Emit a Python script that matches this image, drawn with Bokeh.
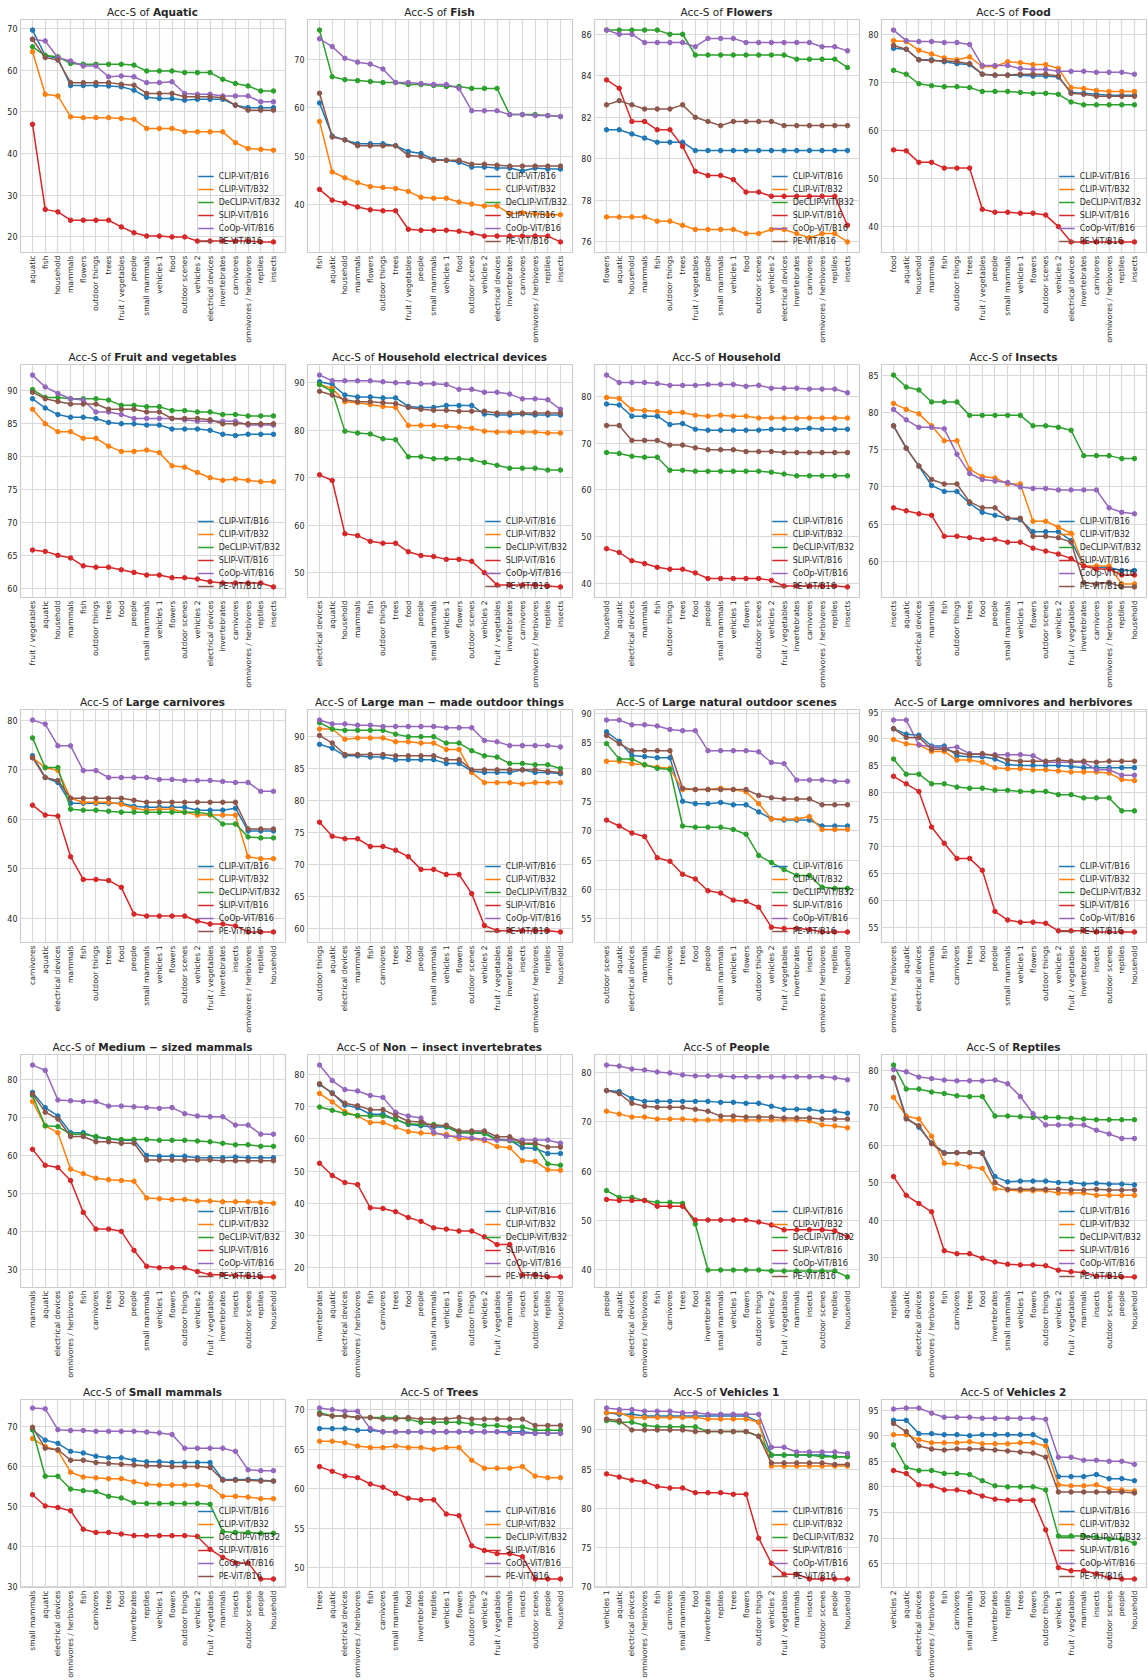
import math
from bokeh.plotting import figure
from bokeh.models import FactorRange, Range1d, SingleIntervalTicker, ColumnDataSource, Div
from bokeh.layouts import column, row
from bokeh.embed import file_html
from bokeh.resources import INLINE

FONT = "DejaVu Sans"

MODELS = ["CLIP-ViT/B16", "CLIP-ViT/B32", "DeCLIP-ViT/B32", "SLIP-ViT/B16", "CoOp-ViT/B16", "PE-ViT/B16"]
COLORS = ["#1f77b4", "#ff7f0e", "#2ca02c", "#d62728", "#9467bd", "#8c564b"]

# ---------------- data ----------------
AQUATIC_ORDER = ["aquatic", "fish", "household", "mammals", "flowers", "outdoor things", "trees", "fruit / vegetables", "people", "small mammals", "vehicles 1", "food", "outdoor scenes", "vehicles 2", "electrical devices", "invertebrates", "carnivores", "omnivores / herbivores", "reptiles", "insects"]
AQUATIC = {
    "CLIP-ViT/B16": [69.6, 63.5, 62.8, 56.3, 56.3, 56.3, 56.2, 56.0, 55.2, 53.5, 53.2, 53.2, 52.8, 53.0, 53.0, 53.0, 51.6, 51.0, 51.0, 51.0],
    "CLIP-ViT/B32": [64.4, 54.2, 53.8, 48.8, 48.6, 48.6, 48.6, 48.4, 48.2, 46.0, 46.0, 46.0, 45.2, 45.2, 45.2, 45.2, 42.6, 41.2, 41.0, 40.8],
    "DeCLIP-ViT/B32": [65.6, 63.5, 63.2, 61.6, 61.4, 61.4, 61.4, 61.4, 61.2, 59.8, 59.8, 59.8, 59.4, 59.4, 59.4, 57.8, 56.8, 56.2, 55.0, 55.0],
    "SLIP-ViT/B16": [47.0, 26.6, 26.0, 24.0, 24.0, 24.0, 24.0, 22.4, 21.0, 20.2, 20.2, 20.0, 20.0, 19.0, 19.0, 19.0, 19.0, 19.0, 18.8, 18.8],
    "CoOp-ViT/B16": [67.4, 67.0, 63.0, 62.2, 61.0, 61.0, 58.4, 58.6, 58.4, 57.0, 57.0, 57.2, 54.4, 54.2, 54.2, 53.8, 53.8, 53.8, 52.4, 52.4],
    "PE-ViT/B16": [67.4, 63.0, 62.4, 57.0, 57.0, 57.0, 57.0, 56.6, 56.4, 54.4, 54.4, 54.4, 53.6, 53.6, 53.6, 53.4, 51.6, 50.4, 50.4, 50.4],
}

FISH_ORDER = ["fish", "aquatic", "household", "mammals", "flowers", "outdoor things", "trees", "fruit / vegetables", "people", "small mammals", "vehicles 1", "food", "outdoor scenes", "vehicles 2", "electrical devices", "invertebrates", "carnivores", "omnivores / herbivores", "reptiles", "insects"]
FISH = {
    "CLIP-ViT/B16": [61.0, 54.2, 53.4, 52.6, 52.6, 52.6, 52.2, 51.0, 50.6, 49.4, 49.2, 48.8, 47.8, 47.8, 47.6, 47.6, 47.0, 47.6, 47.4, 47.4],
    "CLIP-ViT/B32": [57.2, 46.8, 45.6, 44.6, 43.8, 43.6, 43.4, 42.8, 41.6, 41.4, 41.4, 40.6, 40.2, 39.8, 39.8, 38.2, 38.4, 38.2, 38.0, 38.0],
    "DeCLIP-ViT/B32": [76.0, 66.4, 65.8, 65.6, 65.4, 65.2, 65.2, 64.8, 64.8, 64.6, 64.4, 64.4, 64.0, 64.0, 64.0, 58.6, 58.6, 58.6, 58.4, 58.2],
    "SLIP-ViT/B16": [43.2, 41.0, 40.4, 39.6, 39.0, 38.8, 38.8, 35.0, 34.8, 34.8, 34.8, 34.6, 34.2, 33.6, 33.6, 33.6, 33.6, 33.6, 33.6, 32.4],
    "CoOp-ViT/B16": [74.2, 72.6, 70.2, 69.4, 69.0, 68.0, 65.2, 65.2, 65.0, 64.8, 64.8, 64.0, 59.4, 59.4, 59.4, 58.6, 58.6, 58.4, 58.4, 58.2],
    "PE-ViT/B16": [63.0, 54.0, 53.4, 52.2, 52.2, 52.2, 52.2, 50.2, 50.0, 49.2, 49.2, 49.2, 48.4, 48.4, 48.2, 48.0, 48.0, 48.0, 48.0, 48.0],
}

FLOWERS_ORDER = ["flowers", "aquatic", "household", "mammals", "fish", "outdoor things", "trees", "fruit / vegetables", "people", "small mammals", "vehicles 1", "food", "outdoor scenes", "vehicles 2", "electrical devices", "invertebrates", "carnivores", "omnivores / herbivores", "reptiles", "insects"]
FLOWERS = {
    "CLIP-ViT/B16": [81.4, 81.4, 81.2, 81.0, 80.8, 80.8, 80.8, 80.4, 80.4, 80.4, 80.4, 80.4, 80.4, 80.4, 80.4, 80.4, 80.4, 80.4, 80.4, 80.4],
    "CLIP-ViT/B32": [77.2, 77.2, 77.2, 77.2, 77.0, 77.0, 76.8, 76.6, 76.6, 76.6, 76.6, 76.4, 76.4, 76.6, 76.6, 76.4, 76.2, 76.4, 76.4, 76.0],
    "DeCLIP-ViT/B32": [86.2, 86.2, 86.2, 86.2, 86.2, 86.0, 86.0, 85.0, 85.0, 85.0, 85.0, 85.0, 85.0, 85.0, 85.0, 84.8, 84.8, 84.8, 84.8, 84.4],
    "SLIP-ViT/B16": [83.8, 83.4, 81.8, 81.8, 81.4, 81.4, 80.6, 79.4, 79.2, 79.2, 79.0, 78.4, 78.4, 78.2, 78.2, 78.2, 78.2, 78.2, 78.2, 76.8],
    "CoOp-ViT/B16": [86.2, 86.0, 86.0, 85.6, 85.6, 85.6, 85.6, 85.4, 85.8, 85.8, 85.8, 85.6, 85.6, 85.6, 85.6, 85.6, 85.6, 85.4, 85.4, 85.2],
    "PE-ViT/B16": [82.6, 82.8, 82.6, 82.4, 82.4, 82.4, 82.6, 82.0, 81.8, 81.6, 81.8, 81.8, 81.8, 81.8, 81.6, 81.6, 81.6, 81.6, 81.6, 81.6],
}

FOOD_ORDER = ["food", "aquatic", "household", "mammals", "fish", "outdoor things", "trees", "fruit / vegetables", "people", "small mammals", "vehicles 1", "flowers", "outdoor scenes", "vehicles 2", "electrical devices", "invertebrates", "carnivores", "omnivores / herbivores", "reptiles", "insects"]
FOOD = {
    "CLIP-ViT/B16": [77.2, 77.0, 74.8, 74.8, 74.4, 74.0, 73.8, 71.8, 71.6, 71.6, 71.6, 71.4, 71.4, 71.2, 68.0, 67.8, 67.6, 67.4, 67.4, 67.4],
    "CLIP-ViT/B32": [78.8, 78.6, 76.8, 76.0, 75.2, 74.8, 75.4, 73.4, 73.4, 74.4, 74.2, 73.8, 73.8, 73.0, 69.0, 68.8, 68.4, 68.2, 68.2, 68.2],
    "DeCLIP-ViT/B32": [72.6, 71.8, 69.8, 69.4, 69.2, 69.2, 69.0, 68.2, 68.2, 68.2, 68.0, 67.8, 67.8, 67.6, 66.0, 65.4, 65.4, 65.4, 65.4, 65.4],
    "SLIP-ViT/B16": [56.0, 55.8, 53.4, 53.4, 52.2, 52.2, 52.2, 43.6, 43.0, 43.0, 42.8, 42.8, 42.4, 40.0, 36.8, 36.8, 36.8, 36.8, 36.8, 36.8],
    "CoOp-ViT/B16": [81.0, 78.8, 78.6, 78.6, 78.4, 78.4, 78.0, 73.6, 73.6, 73.6, 73.0, 72.8, 72.8, 72.4, 72.4, 72.4, 72.2, 72.2, 72.2, 71.8],
    "PE-ViT/B16": [77.8, 77.0, 74.8, 74.6, 74.6, 74.4, 74.0, 71.8, 71.6, 71.6, 71.8, 71.8, 71.8, 71.4, 67.8, 67.6, 67.2, 67.2, 67.2, 67.2],
}

FRUIT_ORDER = ["fruit / vegetables", "aquatic", "household", "mammals", "fish", "outdoor things", "trees", "food", "people", "small mammals", "vehicles 1", "flowers", "outdoor scenes", "vehicles 2", "electrical devices", "invertebrates", "carnivores", "omnivores / herbivores", "reptiles", "insects"]
FRUIT = {
    "CLIP-ViT/B16": [88.8, 87.4, 86.4, 86.0, 86.0, 85.8, 85.2, 85.0, 85.0, 84.8, 84.8, 84.2, 84.2, 84.2, 84.0, 83.4, 83.2, 83.4, 83.4, 83.4],
    "CLIP-ViT/B32": [87.2, 85.0, 83.8, 83.8, 82.8, 82.8, 81.6, 80.8, 80.8, 81.0, 80.6, 78.6, 78.4, 77.6, 76.8, 76.4, 76.6, 76.4, 76.2, 76.2],
    "DeCLIP-ViT/B32": [90.2, 89.0, 89.0, 88.8, 88.8, 88.8, 88.6, 87.8, 87.8, 87.6, 87.6, 87.0, 87.0, 86.8, 86.8, 86.4, 86.4, 86.2, 86.2, 86.2],
    "SLIP-ViT/B16": [65.8, 65.6, 65.0, 64.6, 63.4, 63.2, 63.2, 62.8, 62.4, 62.0, 62.0, 61.6, 61.6, 61.4, 61.0, 60.8, 60.8, 60.8, 60.8, 60.2],
    "CoOp-ViT/B16": [92.4, 90.6, 89.6, 88.8, 88.6, 86.8, 86.8, 86.4, 85.8, 85.8, 85.8, 85.8, 85.6, 85.4, 85.4, 85.4, 85.4, 84.8, 84.8, 84.8],
    "PE-ViT/B16": [89.8, 88.8, 88.4, 88.0, 88.0, 88.0, 87.2, 87.2, 87.2, 86.8, 86.8, 85.8, 85.8, 85.8, 85.6, 85.0, 85.0, 85.0, 85.0, 85.0],
}

ELECTRICAL_ORDER = ["electrical devices", "aquatic", "household", "mammals", "fish", "outdoor things", "trees", "food", "people", "small mammals", "vehicles 1", "flowers", "outdoor scenes", "vehicles 2", "fruit / vegetables", "invertebrates", "carnivores", "omnivores / herbivores", "reptiles", "insects"]
ELECTRICAL = {
    "CLIP-ViT/B16": [90.2, 89.6, 87.4, 87.0, 87.0, 86.8, 86.8, 85.0, 84.8, 84.8, 85.2, 85.2, 85.2, 83.4, 83.2, 83.2, 83.4, 83.2, 83.2, 83.2],
    "CLIP-ViT/B32": [89.6, 88.8, 86.0, 85.8, 85.4, 85.0, 84.8, 81.0, 81.0, 81.0, 80.8, 80.6, 80.4, 79.8, 79.6, 79.6, 79.6, 79.6, 79.4, 79.4],
    "DeCLIP-ViT/B32": [89.6, 88.2, 79.8, 79.4, 79.2, 78.2, 78.0, 74.4, 74.4, 74.0, 74.0, 74.0, 73.8, 73.2, 72.6, 72.0, 72.0, 72.0, 71.6, 71.6],
    "SLIP-ViT/B16": [70.6, 69.4, 58.2, 57.8, 56.6, 56.2, 56.2, 54.4, 53.6, 53.4, 52.8, 52.8, 52.4, 50.0, 47.4, 47.4, 47.4, 47.4, 47.2, 47.0],
    "CoOp-ViT/B16": [91.6, 90.4, 90.4, 90.4, 90.4, 90.2, 90.0, 90.0, 89.8, 89.8, 89.6, 88.6, 88.6, 88.0, 88.0, 87.6, 86.6, 86.6, 86.4, 84.4],
    "PE-ViT/B16": [88.2, 87.4, 86.4, 86.0, 86.0, 85.8, 85.6, 84.8, 84.4, 84.2, 84.2, 84.0, 84.0, 84.0, 83.6, 83.6, 83.6, 83.6, 83.6, 83.6],
}

HOUSEHOLD_ORDER = ["household", "aquatic", "electrical devices", "mammals", "fish", "outdoor things", "trees", "food", "people", "small mammals", "vehicles 1", "flowers", "outdoor scenes", "vehicles 2", "fruit / vegetables", "invertebrates", "carnivores", "omnivores / herbivores", "reptiles", "insects"]
HOUSEHOLD = {
    "CLIP-ViT/B16": [78.4, 78.2, 75.8, 75.8, 75.8, 74.0, 74.2, 73.0, 72.8, 72.8, 72.8, 72.8, 72.8, 73.0, 73.0, 73.0, 73.2, 73.0, 73.0, 73.0],
    "CLIP-ViT/B32": [79.8, 79.6, 77.2, 77.0, 76.8, 76.6, 76.6, 76.0, 75.8, 76.0, 75.8, 75.8, 75.4, 75.4, 75.4, 75.4, 75.4, 75.4, 75.4, 75.4],
    "DeCLIP-ViT/B32": [68.0, 67.8, 67.2, 67.0, 67.0, 64.2, 64.2, 64.0, 64.0, 64.0, 64.0, 64.0, 64.0, 63.8, 63.4, 63.0, 63.0, 63.0, 63.0, 63.0],
    "SLIP-ViT/B16": [47.4, 46.6, 44.8, 44.2, 43.4, 43.0, 43.0, 42.2, 41.0, 41.0, 41.0, 41.0, 41.0, 40.6, 39.4, 39.4, 39.4, 39.4, 39.4, 39.2],
    "CoOp-ViT/B16": [84.6, 83.0, 83.0, 83.0, 82.8, 82.4, 82.4, 82.4, 82.6, 82.6, 82.6, 82.2, 82.4, 81.8, 81.8, 81.8, 81.6, 81.6, 81.6, 80.8],
    "PE-ViT/B16": [73.8, 73.8, 70.6, 70.6, 70.6, 69.6, 69.6, 69.0, 68.6, 68.6, 68.6, 68.2, 68.2, 68.2, 68.0, 68.0, 68.0, 68.0, 68.0, 68.0],
}

INSECTS_ORDER = ["insects", "aquatic", "electrical devices", "mammals", "fish", "outdoor things", "trees", "food", "people", "small mammals", "vehicles 1", "flowers", "outdoor scenes", "vehicles 2", "fruit / vegetables", "invertebrates", "carnivores", "omnivores / herbivores", "reptiles", "household"]
INSECTS = {
    "CLIP-ViT/B16": [78.2, 75.2, 72.8, 70.2, 69.4, 69.4, 67.8, 66.6, 66.2, 65.8, 65.6, 64.0, 64.0, 64.0, 62.8, 59.4, 59.2, 59.2, 58.8, 58.8],
    "CLIP-ViT/B32": [81.2, 80.4, 79.8, 78.2, 76.2, 76.2, 72.4, 71.4, 71.2, 70.4, 70.4, 65.4, 65.4, 64.6, 63.8, 59.4, 59.4, 59.4, 57.0, 57.0],
    "DeCLIP-ViT/B32": [85.0, 83.4, 83.0, 81.4, 81.4, 81.4, 79.6, 79.6, 79.6, 79.6, 79.6, 78.2, 78.2, 78.0, 77.6, 74.2, 74.2, 74.2, 73.8, 73.8],
    "SLIP-ViT/B16": [67.2, 66.8, 66.4, 66.2, 63.4, 63.4, 63.2, 63.0, 63.0, 62.6, 62.6, 61.8, 61.4, 61.0, 60.4, 59.4, 59.0, 59.0, 58.2, 58.2],
    "CoOp-ViT/B16": [80.4, 79.0, 78.0, 78.0, 77.8, 74.4, 71.8, 71.0, 70.8, 70.6, 70.0, 69.8, 69.8, 69.6, 69.6, 69.6, 69.6, 67.2, 66.6, 66.4],
    "PE-ViT/B16": [78.2, 75.2, 72.8, 71.0, 70.4, 70.4, 68.0, 67.2, 67.2, 65.8, 65.8, 63.4, 63.4, 63.2, 62.6, 57.2, 57.0, 57.2, 56.6, 56.6],
}

CARNIVORES_ORDER = ["carnivores", "aquatic", "electrical devices", "mammals", "fish", "outdoor things", "trees", "food", "people", "small mammals", "vehicles 1", "flowers", "outdoor scenes", "vehicles 2", "fruit / vegetables", "invertebrates", "insects", "omnivores / herbivores", "reptiles", "household"]
CARNIVORES = {
    "CLIP-ViT/B16": [72.8, 68.4, 67.4, 63.2, 63.2, 63.2, 63.2, 63.2, 62.6, 62.4, 62.4, 62.4, 62.4, 61.8, 61.8, 61.8, 62.2, 57.6, 57.6, 57.6],
    "CLIP-ViT/B32": [72.4, 70.4, 69.8, 64.2, 63.4, 63.4, 63.4, 63.0, 62.2, 61.8, 62.0, 62.0, 61.4, 60.8, 60.8, 60.8, 60.8, 52.4, 52.0, 52.0],
    "DeCLIP-ViT/B32": [76.4, 70.4, 70.4, 62.0, 61.8, 61.8, 61.6, 61.4, 61.4, 61.4, 61.4, 61.4, 61.4, 61.4, 61.0, 59.0, 59.0, 56.4, 56.2, 56.2],
    "SLIP-ViT/B16": [62.8, 60.8, 60.6, 52.4, 47.8, 47.8, 47.6, 46.2, 40.8, 40.4, 40.4, 40.4, 40.4, 39.4, 38.8, 38.8, 38.4, 37.2, 37.2, 37.2],
    "CoOp-ViT/B16": [80.0, 79.2, 74.8, 74.8, 69.8, 69.8, 68.4, 68.4, 68.4, 68.4, 68.0, 68.0, 67.8, 67.8, 67.8, 67.6, 67.4, 67.4, 65.6, 65.6],
    "PE-ViT/B16": [72.4, 68.4, 67.8, 64.2, 64.2, 64.2, 64.2, 64.2, 63.8, 63.4, 63.4, 63.4, 63.4, 63.4, 63.4, 63.4, 63.4, 58.0, 58.0, 58.0],
}

OUTDOOR_THINGS_ORDER = ["outdoor things", "aquatic", "electrical devices", "mammals", "fish", "carnivores", "trees", "food", "people", "small mammals", "vehicles 1", "flowers", "outdoor scenes", "vehicles 2", "fruit / vegetables", "invertebrates", "insects", "omnivores / herbivores", "reptiles", "household"]
OUTDOOR_THINGS = {
    "CLIP-ViT/B16": [88.8, 88.2, 87.0, 87.0, 86.8, 86.8, 86.4, 86.4, 86.4, 86.4, 85.8, 85.8, 84.6, 84.4, 84.4, 84.4, 84.8, 84.4, 84.4, 84.2],
    "CLIP-ViT/B32": [91.2, 91.2, 89.6, 89.8, 89.8, 89.8, 89.2, 89.2, 89.0, 89.0, 88.0, 88.0, 84.4, 82.8, 82.8, 82.8, 82.6, 82.8, 82.8, 82.8],
    "DeCLIP-ViT/B32": [92.2, 91.2, 91.0, 91.0, 91.0, 91.0, 90.4, 90.0, 90.0, 90.0, 89.0, 89.0, 87.8, 87.0, 86.8, 85.8, 85.8, 85.6, 85.6, 85.0],
    "SLIP-ViT/B16": [76.6, 74.4, 74.0, 74.0, 72.8, 72.8, 72.2, 71.2, 69.2, 69.2, 68.4, 68.4, 65.4, 60.4, 59.6, 59.6, 59.6, 59.6, 59.6, 59.4],
    "CoOp-ViT/B16": [92.6, 92.0, 92.0, 91.8, 91.8, 91.6, 91.6, 91.6, 91.6, 91.6, 91.4, 91.4, 91.4, 89.4, 89.2, 88.6, 88.6, 88.6, 88.6, 88.4],
    "PE-ViT/B16": [90.2, 89.0, 87.2, 87.2, 87.2, 87.2, 87.0, 87.0, 87.0, 87.0, 86.4, 86.4, 84.8, 84.8, 84.8, 84.8, 84.8, 84.8, 84.6, 84.4],
}

OUTDOOR_SCENES_ORDER = ["outdoor scenes", "aquatic", "electrical devices", "mammals", "fish", "carnivores", "trees", "food", "people", "small mammals", "vehicles 1", "flowers", "outdoor things", "vehicles 2", "fruit / vegetables", "invertebrates", "insects", "omnivores / herbivores", "reptiles", "household"]
OUTDOOR_SCENES = {
    "CLIP-ViT/B16": [86.8, 85.2, 82.8, 82.6, 82.4, 82.4, 75.0, 74.6, 74.6, 74.8, 74.4, 74.4, 73.2, 72.0, 71.8, 71.8, 71.8, 70.8, 70.8, 70.8],
    "CLIP-ViT/B32": [81.8, 81.8, 81.4, 81.2, 80.8, 80.6, 77.0, 77.0, 77.0, 77.2, 77.0, 76.6, 74.6, 72.0, 72.0, 72.0, 72.4, 70.2, 70.2, 70.2],
    "DeCLIP-ViT/B32": [84.8, 82.2, 82.2, 81.2, 80.6, 80.4, 70.8, 70.6, 70.6, 70.6, 70.2, 69.4, 65.8, 64.6, 63.4, 62.4, 62.4, 60.4, 60.2, 60.2],
    "SLIP-ViT/B16": [71.8, 70.8, 69.6, 69.0, 65.4, 64.8, 62.6, 61.8, 59.8, 59.4, 58.2, 58.0, 57.0, 53.6, 53.4, 53.4, 53.2, 52.8, 52.8, 52.8],
    "CoOp-ViT/B16": [88.8, 88.8, 88.0, 88.0, 87.8, 87.2, 87.0, 87.0, 83.6, 83.6, 83.6, 83.6, 83.4, 81.6, 81.4, 78.6, 78.6, 78.6, 78.4, 78.4],
    "PE-ViT/B16": [86.2, 84.8, 83.6, 83.6, 83.6, 83.6, 77.2, 77.0, 77.0, 77.0, 77.0, 77.0, 76.0, 75.6, 75.4, 75.4, 75.4, 74.4, 74.4, 74.4],
}

OMNIVORES_ORDER = ["omnivores / herbivores", "aquatic", "electrical devices", "mammals", "fish", "carnivores", "trees", "food", "people", "small mammals", "vehicles 1", "flowers", "outdoor things", "vehicles 2", "fruit / vegetables", "invertebrates", "insects", "outdoor scenes", "reptiles", "household"]
OMNIVORES = {
    "CLIP-ViT/B16": [91.8, 90.8, 90.6, 88.6, 88.6, 86.8, 86.6, 86.6, 86.2, 85.2, 85.0, 85.0, 85.0, 85.0, 84.8, 84.6, 84.6, 84.6, 84.6, 84.6],
    "CLIP-ViT/B32": [89.8, 89.0, 88.8, 87.6, 87.6, 86.0, 86.0, 85.6, 84.6, 84.4, 84.4, 84.2, 84.2, 84.0, 83.8, 83.8, 83.8, 83.6, 82.4, 82.2],
    "DeCLIP-ViT/B32": [86.2, 83.4, 83.4, 81.6, 81.6, 81.0, 80.8, 80.8, 80.4, 80.4, 80.2, 80.2, 80.2, 79.6, 79.6, 79.0, 79.0, 79.0, 76.6, 76.6],
    "SLIP-ViT/B16": [83.0, 81.6, 80.2, 73.6, 70.6, 67.8, 67.8, 65.6, 58.0, 56.4, 56.0, 56.0, 55.8, 54.4, 54.4, 54.4, 54.2, 54.2, 54.2, 54.2],
    "CoOp-ViT/B16": [93.4, 93.4, 88.8, 88.4, 88.2, 88.4, 87.2, 87.0, 87.0, 87.0, 87.0, 86.8, 85.6, 85.6, 85.6, 85.6, 84.2, 84.2, 83.2, 83.2],
    "PE-ViT/B16": [91.8, 90.2, 90.2, 88.0, 88.0, 87.4, 87.0, 87.2, 86.8, 86.0, 85.8, 85.8, 85.8, 86.0, 85.8, 85.8, 85.6, 85.8, 85.8, 85.8],
}

MAMMALS_ORDER = ["mammals", "aquatic", "electrical devices", "omnivores / herbivores", "fish", "carnivores", "trees", "food", "people", "small mammals", "vehicles 1", "flowers", "outdoor things", "vehicles 2", "fruit / vegetables", "invertebrates", "insects", "outdoor scenes", "reptiles", "household"]
MAMMALS = {
    "CLIP-ViT/B16": [76.6, 72.6, 70.4, 66.0, 66.0, 64.8, 64.4, 64.0, 64.0, 60.0, 59.8, 59.8, 59.8, 59.4, 59.4, 59.4, 59.6, 59.4, 59.4, 59.4],
    "CLIP-ViT/B32": [74.2, 67.8, 66.0, 56.4, 55.2, 54.0, 53.6, 53.4, 53.2, 48.8, 48.6, 48.4, 48.4, 48.0, 48.0, 47.8, 47.8, 47.8, 47.6, 47.4],
    "DeCLIP-ViT/B32": [75.8, 67.8, 67.6, 65.6, 65.6, 65.0, 64.4, 64.2, 64.2, 64.2, 64.0, 64.0, 64.0, 63.8, 63.6, 63.2, 62.8, 62.8, 62.4, 62.4],
    "SLIP-ViT/B16": [61.6, 57.4, 56.8, 53.4, 45.0, 40.6, 40.6, 40.0, 35.0, 30.8, 30.4, 30.4, 30.4, 29.4, 28.6, 28.6, 28.4, 28.2, 28.0, 28.0],
    "CoOp-ViT/B16": [83.8, 82.4, 74.6, 74.4, 74.2, 74.2, 73.0, 73.0, 72.8, 72.6, 72.4, 72.6, 71.0, 70.4, 70.2, 70.2, 68.0, 68.0, 65.6, 65.6],
    "PE-ViT/B16": [76.2, 71.4, 69.6, 65.0, 65.0, 63.6, 63.6, 63.2, 63.2, 58.8, 58.8, 58.8, 58.8, 58.8, 58.8, 58.6, 58.6, 58.6, 58.6, 58.6],
}

INVERTEBRATES_ORDER = ["invertebrates", "aquatic", "electrical devices", "omnivores / herbivores", "fish", "carnivores", "trees", "food", "people", "small mammals", "vehicles 1", "flowers", "outdoor things", "vehicles 2", "fruit / vegetables", "mammals", "insects", "outdoor scenes", "reptiles", "household"]
INVERTEBRATES = {
    "CLIP-ViT/B16": [76.8, 74.2, 70.4, 69.6, 67.6, 67.6, 66.0, 64.4, 64.0, 63.6, 63.6, 62.0, 62.0, 61.8, 59.8, 59.6, 57.2, 57.0, 55.4, 55.4],
    "CLIP-ViT/B32": [74.0, 71.4, 68.4, 67.0, 65.0, 65.0, 63.6, 62.2, 61.8, 61.6, 61.4, 60.0, 60.0, 59.4, 57.6, 57.2, 53.2, 53.0, 50.4, 50.2],
    "DeCLIP-ViT/B32": [69.8, 68.8, 67.8, 67.2, 67.0, 67.0, 66.0, 64.6, 64.4, 64.4, 63.8, 61.8, 61.8, 61.6, 59.6, 59.4, 58.4, 58.2, 52.2, 51.8],
    "SLIP-ViT/B16": [52.4, 48.6, 46.4, 45.8, 38.6, 38.4, 37.4, 35.6, 34.4, 32.4, 32.0, 31.4, 31.4, 29.6, 27.2, 27.2, 17.8, 17.8, 17.2, 17.2],
    "CoOp-ViT/B16": [82.8, 78.0, 75.2, 74.8, 73.4, 72.8, 68.2, 67.0, 66.4, 62.0, 60.8, 60.8, 60.2, 59.8, 59.6, 59.6, 59.6, 59.6, 59.6, 58.6],
    "PE-ViT/B16": [77.0, 74.0, 71.0, 70.2, 69.0, 69.0, 67.2, 65.4, 65.2, 64.0, 64.2, 62.4, 62.4, 62.4, 60.6, 60.6, 58.6, 58.6, 57.4, 57.4],
}

PEOPLE_ORDER = ["people", "aquatic", "electrical devices", "omnivores / herbivores", "fish", "carnivores", "trees", "food", "invertebrates", "small mammals", "vehicles 1", "flowers", "outdoor things", "vehicles 2", "fruit / vegetables", "mammals", "insects", "outdoor scenes", "reptiles", "household"]
PEOPLE = {
    "CLIP-ViT/B16": [76.4, 76.2, 74.8, 74.2, 74.2, 74.2, 74.2, 74.2, 74.2, 74.0, 74.0, 73.8, 73.8, 73.2, 72.6, 72.6, 72.6, 72.2, 72.2, 71.8],
    "CLIP-ViT/B32": [72.2, 71.6, 71.0, 71.0, 70.6, 70.6, 70.6, 70.4, 70.4, 70.4, 70.4, 70.4, 70.4, 70.4, 70.4, 70.4, 70.2, 69.4, 69.2, 68.8],
    "DeCLIP-ViT/B32": [56.0, 54.6, 54.6, 54.0, 53.6, 53.6, 53.4, 49.2, 39.8, 39.8, 39.8, 39.8, 39.8, 39.6, 39.6, 39.6, 39.6, 39.6, 39.6, 38.4],
    "SLIP-ViT/B16": [54.2, 54.0, 54.0, 54.0, 52.8, 52.8, 52.8, 50.0, 50.0, 50.0, 50.0, 50.0, 49.6, 49.0, 48.0, 48.0, 48.0, 48.0, 47.8, 46.6],
    "CoOp-ViT/B16": [81.6, 81.4, 80.8, 80.6, 80.2, 80.0, 79.6, 79.4, 79.4, 79.4, 79.2, 79.2, 79.2, 79.2, 79.2, 79.2, 79.2, 79.2, 79.0, 78.6],
    "PE-ViT/B16": [76.4, 75.8, 73.8, 73.2, 73.0, 73.0, 73.0, 72.6, 72.2, 71.2, 71.2, 71.0, 71.0, 71.0, 70.8, 70.8, 70.8, 70.6, 70.6, 70.6],
}

REPTILES_ORDER = ["reptiles", "aquatic", "electrical devices", "omnivores / herbivores", "fish", "carnivores", "trees", "food", "invertebrates", "small mammals", "vehicles 1", "flowers", "outdoor things", "vehicles 2", "fruit / vegetables", "mammals", "insects", "outdoor scenes", "people", "household"]
REPTILES = {
    "CLIP-ViT/B16": [78.0, 67.4, 64.8, 60.6, 58.0, 58.0, 58.0, 58.0, 51.6, 50.2, 50.4, 50.4, 50.4, 50.0, 50.0, 49.6, 49.8, 49.6, 49.6, 49.4],
    "CLIP-ViT/B32": [72.8, 67.8, 67.0, 62.4, 55.2, 55.0, 54.2, 53.8, 48.4, 48.0, 47.8, 47.8, 47.8, 47.2, 47.2, 47.2, 46.6, 46.6, 46.6, 46.6],
    "DeCLIP-ViT/B32": [81.4, 75.0, 75.0, 74.2, 73.8, 73.2, 73.0, 73.0, 67.8, 67.8, 67.6, 67.4, 67.4, 67.4, 67.2, 67.0, 66.8, 66.8, 66.8, 66.8],
    "SLIP-ViT/B16": [51.6, 46.6, 44.4, 42.2, 31.8, 31.0, 31.0, 29.8, 28.8, 28.2, 28.0, 28.0, 27.8, 26.6, 26.2, 26.0, 25.0, 25.0, 24.8, 24.8],
    "CoOp-ViT/B16": [80.2, 79.6, 78.2, 77.8, 77.4, 77.2, 77.2, 77.2, 77.4, 76.4, 73.0, 68.4, 65.4, 65.4, 65.4, 65.4, 64.0, 63.0, 61.8, 61.8],
    "PE-ViT/B16": [78.0, 67.0, 65.2, 60.4, 57.8, 58.0, 58.0, 57.8, 50.0, 48.2, 48.2, 48.2, 48.2, 48.2, 48.0, 48.0, 48.2, 48.0, 48.0, 48.0],
}

SMALL_MAMMALS_ORDER = ["small mammals", "aquatic", "electrical devices", "omnivores / herbivores", "fish", "carnivores", "trees", "food", "invertebrates", "reptiles", "vehicles 1", "flowers", "outdoor things", "vehicles 2", "fruit / vegetables", "mammals", "insects", "outdoor scenes", "people", "household"]
SMALL_MAMMALS = {
    "CLIP-ViT/B16": [69.2, 66.6, 65.8, 63.8, 63.4, 62.6, 62.2, 62.2, 61.6, 61.2, 61.2, 61.0, 61.0, 61.0, 61.0, 56.8, 56.8, 56.8, 56.6, 56.4],
    "CLIP-ViT/B32": [67.0, 65.0, 64.0, 58.6, 57.4, 57.2, 57.0, 57.0, 56.2, 55.6, 55.4, 55.4, 55.4, 55.4, 55.0, 52.6, 52.6, 52.4, 52.0, 52.0],
    "DeCLIP-ViT/B32": [69.2, 57.6, 57.6, 54.4, 54.0, 53.8, 52.6, 52.2, 51.0, 50.8, 50.8, 50.8, 50.8, 50.8, 50.6, 43.8, 43.6, 43.6, 43.4, 43.4],
    "SLIP-ViT/B16": [53.0, 50.2, 49.8, 49.0, 44.4, 43.6, 43.6, 43.2, 42.8, 42.8, 42.8, 42.8, 42.8, 42.6, 39.4, 37.4, 36.0, 36.0, 32.0, 32.0],
    "CoOp-ViT/B16": [74.6, 74.4, 69.2, 69.0, 69.0, 68.8, 68.8, 68.8, 68.8, 68.6, 68.4, 68.0, 64.6, 64.6, 64.6, 64.6, 63.8, 59.2, 59.0, 59.0],
    "PE-ViT/B16": [69.8, 64.6, 64.2, 61.6, 61.6, 61.0, 60.8, 60.6, 60.4, 60.2, 60.2, 60.0, 60.0, 60.0, 59.8, 56.6, 56.6, 56.6, 56.4, 56.4],
}

TREES_ORDER = ["trees", "aquatic", "electrical devices", "omnivores / herbivores", "fish", "carnivores", "small mammals", "food", "invertebrates", "reptiles", "vehicles 1", "flowers", "outdoor things", "vehicles 2", "fruit / vegetables", "mammals", "insects", "outdoor scenes", "people", "household"]
TREES = {
    "CLIP-ViT/B16": [67.6, 67.6, 67.6, 67.4, 67.4, 67.2, 67.2, 67.2, 67.2, 67.2, 67.2, 67.2, 67.2, 67.2, 67.2, 67.2, 67.2, 67.0, 67.0, 67.0],
    "CLIP-ViT/B32": [66.0, 66.0, 65.8, 65.4, 65.2, 65.2, 65.4, 65.2, 65.2, 65.0, 65.2, 65.2, 63.6, 62.6, 62.6, 62.6, 62.8, 61.6, 61.4, 61.4],
    "DeCLIP-ViT/B32": [69.6, 69.2, 69.2, 69.0, 69.0, 69.0, 69.0, 68.8, 68.4, 68.4, 68.4, 68.4, 68.2, 68.0, 68.0, 67.8, 67.8, 67.4, 67.4, 67.4],
    "SLIP-ViT/B16": [62.8, 62.2, 61.6, 61.4, 60.6, 60.2, 59.4, 58.8, 58.6, 58.6, 56.8, 56.6, 52.8, 52.2, 51.8, 51.8, 51.4, 48.6, 48.6, 48.6],
    "CoOp-ViT/B16": [70.2, 70.0, 69.8, 69.8, 67.6, 67.2, 67.2, 67.2, 67.2, 67.2, 67.2, 67.2, 67.2, 67.2, 67.2, 67.0, 67.0, 67.0, 67.0, 67.0],
    "PE-ViT/B16": [69.4, 69.2, 69.2, 69.0, 69.0, 68.8, 68.8, 69.0, 68.8, 68.8, 68.8, 69.0, 68.8, 68.8, 68.8, 68.8, 68.8, 68.0, 68.0, 68.0],
}

VEHICLES1_ORDER = ["vehicles 1", "aquatic", "electrical devices", "omnivores / herbivores", "fish", "carnivores", "small mammals", "food", "invertebrates", "reptiles", "trees", "flowers", "outdoor things", "vehicles 2", "fruit / vegetables", "mammals", "insects", "outdoor scenes", "people", "household"]
VEHICLES1 = {
    "CLIP-ViT/B16": [92.2, 92.0, 92.0, 91.8, 91.8, 91.8, 91.8, 91.8, 91.8, 91.8, 91.8, 91.8, 91.0, 86.8, 86.8, 86.8, 86.8, 86.8, 86.6, 86.6],
    "CLIP-ViT/B32": [92.2, 92.2, 91.6, 91.6, 91.6, 91.6, 91.6, 91.6, 91.4, 91.4, 91.4, 91.4, 91.0, 85.4, 85.4, 85.4, 85.4, 85.4, 85.4, 85.4],
    "DeCLIP-ViT/B32": [91.2, 91.0, 91.0, 90.6, 90.4, 90.4, 90.4, 90.4, 89.8, 89.8, 89.8, 89.8, 89.2, 86.8, 86.8, 86.8, 86.8, 86.6, 86.6, 86.6],
    "SLIP-ViT/B16": [84.4, 84.0, 83.6, 83.4, 82.8, 82.6, 82.6, 82.0, 82.0, 82.0, 81.8, 81.8, 76.2, 73.0, 71.6, 71.6, 71.0, 71.0, 71.0, 71.0],
    "CoOp-ViT/B16": [92.8, 92.6, 92.6, 92.4, 92.4, 92.4, 92.2, 92.2, 92.0, 92.0, 92.0, 92.0, 92.0, 87.8, 87.8, 87.2, 87.2, 87.2, 87.2, 87.0],
    "PE-ViT/B16": [91.4, 91.2, 90.0, 90.0, 90.0, 90.0, 90.0, 89.8, 89.8, 89.8, 89.8, 89.8, 89.2, 85.8, 85.8, 85.8, 85.8, 85.8, 85.6, 85.6],
}

VEHICLES2_ORDER = ["vehicles 2", "aquatic", "electrical devices", "omnivores / herbivores", "fish", "carnivores", "small mammals", "food", "invertebrates", "reptiles", "trees", "flowers", "outdoor things", "vehicles 1", "fruit / vegetables", "mammals", "insects", "outdoor scenes", "people", "household"]
VEHICLES2 = {
    "CLIP-ViT/B16": [93.0, 93.0, 90.4, 90.4, 90.2, 90.2, 90.0, 90.2, 90.2, 90.2, 90.2, 90.2, 89.0, 82.0, 82.0, 82.0, 82.4, 81.6, 81.6, 81.2],
    "CLIP-ViT/B32": [90.2, 90.2, 89.2, 88.6, 88.6, 88.6, 88.8, 88.4, 88.4, 88.4, 88.6, 88.6, 88.0, 80.4, 80.2, 80.2, 80.4, 79.6, 79.4, 79.2],
    "DeCLIP-ViT/B32": [88.2, 83.8, 83.2, 83.2, 82.6, 82.6, 82.4, 81.2, 80.2, 80.0, 80.0, 80.0, 79.4, 70.4, 70.4, 70.4, 70.2, 69.8, 69.8, 69.0],
    "SLIP-ViT/B16": [83.2, 82.6, 80.4, 80.2, 79.4, 79.4, 79.0, 78.2, 77.6, 77.4, 77.4, 77.4, 71.6, 64.2, 63.6, 63.6, 63.0, 62.2, 62.0, 62.0],
    "CoOp-ViT/B16": [95.2, 95.4, 95.4, 94.4, 93.6, 93.6, 93.6, 93.4, 93.4, 93.4, 93.4, 93.4, 93.2, 85.8, 85.8, 85.2, 85.2, 85.0, 85.0, 84.4],
    "PE-ViT/B16": [92.4, 90.8, 88.0, 87.4, 87.2, 87.4, 87.4, 87.4, 87.2, 87.0, 86.8, 86.6, 85.8, 79.0, 79.0, 79.0, 79.0, 79.0, 79.0, 78.8],
}

TITLES = ["Aquatic", "Fish", "Flowers", "Food", "Fruit and vegetables", "Household electrical devices",
          "Household", "Insects", "Large carnivores", "Large man \u2212 made outdoor things",
          "Large natural outdoor scenes", "Large omnivores and herbivores", "Medium \u2212 sized mammals",
          "Non \u2212 insect invertebrates", "People", "Reptiles", "Small mammals", "Trees", "Vehicles 1", "Vehicles 2"]
ORDERS = [AQUATIC_ORDER, FISH_ORDER, FLOWERS_ORDER, FOOD_ORDER, FRUIT_ORDER, ELECTRICAL_ORDER,
          HOUSEHOLD_ORDER, INSECTS_ORDER, CARNIVORES_ORDER, OUTDOOR_THINGS_ORDER, OUTDOOR_SCENES_ORDER,
          OMNIVORES_ORDER, MAMMALS_ORDER, INVERTEBRATES_ORDER, PEOPLE_ORDER, REPTILES_ORDER,
          SMALL_MAMMALS_ORDER, TREES_ORDER, VEHICLES1_ORDER, VEHICLES2_ORDER]
VALUES = [AQUATIC, FISH, FLOWERS, FOOD, FRUIT, ELECTRICAL, HOUSEHOLD, INSECTS, CARNIVORES, OUTDOOR_THINGS,
          OUTDOOR_SCENES, OMNIVORES, MAMMALS, INVERTEBRATES, PEOPLE, REPTILES, SMALL_MAMMALS, TREES,
          VEHICLES1, VEHICLES2]
TICK_STEPS = [10, 10, 2, 10, 5, 10, 10, 5, 10, 5, 5, 5, 10, 10, 10, 10, 10, 5, 5, 5]

TICK_SIZE = "8px"
XTICK_SIZE = "7.6px"
TEXT_COLOR = "#262626"

COL_W = 287
ROW_H = 345
LAST_ROW_H = 300
TITLE_H = 18
LEFT = 20
RIGHT = 2

cells = []
for idx, (name, order, vals, step) in enumerate(zip(TITLES, ORDERS, VALUES, TICK_STEPS)):
    r = idx // 4
    h = (ROW_H if r < 4 else LAST_ROW_H) - TITLE_H
    allv = [v for m in MODELS for v in vals[m]]
    lo, hi = min(allv), max(allv)
    pad = 0.05 * (hi - lo)
    y0, y1 = lo - pad, hi + pad

    p = figure(width=COL_W, height=h,
               x_range=FactorRange(factors=order, range_padding=0.45, range_padding_units="absolute"),
               y_range=Range1d(y0, y1),
               output_backend="svg", toolbar_location=None,
               min_border_left=LEFT, min_border_right=RIGHT, min_border_top=1, min_border_bottom=5)
    p.background_fill_color = "white"
    p.border_fill_color = "white"
    p.outline_line_color = "#cccccc"
    p.outline_line_width = 1.2

    p.yaxis.ticker = SingleIntervalTicker(interval=step, num_minor_ticks=0)
    for ax in (p.xaxis, p.yaxis):
        ax.major_label_text_font = FONT
        ax.major_label_text_color = TEXT_COLOR
        ax.major_tick_line_color = None
        ax.minor_tick_line_color = None
        ax.major_tick_out = 0
        ax.major_tick_in = 0
        ax.minor_tick_out = 0
        ax.axis_line_color = None
        ax.major_label_standoff = 3
    p.yaxis.major_label_text_font_size = TICK_SIZE
    p.xaxis.major_label_text_font_size = XTICK_SIZE
    p.xaxis.major_label_orientation = math.pi / 2

    p.grid.grid_line_color = "#d9d9d9"
    p.grid.grid_line_width = 1.2

    for m, c in zip(MODELS, COLORS):
        src = ColumnDataSource(dict(x=order, y=vals[m]))
        p.line("x", "y", source=src, line_color=c, line_width=1.5, legend_label=m)
        p.scatter("x", "y", source=src, fill_color=c, line_color=c, size=4.5)

    lg = p.legend[0]
    lg.location = "bottom_right"
    lg.label_text_font_size = TICK_SIZE
    lg.label_text_font = FONT
    lg.label_text_color = TEXT_COLOR
    lg.label_height = 12
    lg.glyph_height = 12
    lg.glyph_width = 16
    lg.spacing = 1
    lg.padding = 2
    lg.margin = 3
    lg.label_standoff = 5
    lg.background_fill_alpha = 0
    lg.border_line_alpha = 0

    title = Div(text="Acc-S of <b>%s</b>" % name, width=COL_W - LEFT - RIGHT, height=TITLE_H,
                margin=(0, RIGHT, 0, LEFT),
                styles={"text-align": "center", "font-family": FONT, "font-size": "10.5px",
                        "line-height": "12px", "padding-top": "6px", "box-sizing": "border-box",
                        "color": TEXT_COLOR, "white-space": "nowrap", "overflow": "visible"})
    cells.append(column(title, p, spacing=0))

rows = [row(cells[i:i + 4], spacing=0) for i in range(0, len(cells), 4)]
layout = column(rows, spacing=0)

open("out.html", "w").write(file_html(layout, INLINE))
